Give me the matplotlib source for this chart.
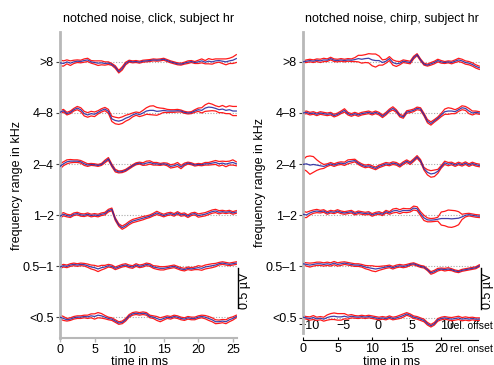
import numpy as np
import matplotlib.pyplot as plt

plt.rcParams['font.family'] = ['Liberation Sans', 'DejaVu Sans']
plt.rcParams['font.size'] = 9

# time axis of the averaged traces (ms), sampled every 0.5 ms
t = np.arange(0, 26, 0.5)

bands = ['<0.5', '0.5–1', '1–2', '2–4', '4–8', '>8']
row_step = 625  # nV between stacked traces
offset_shift = 10.8  # chirp: onset -> offset time (ms)

# click condition: mean (nV) and half width of the red band (nV), per band
click_lt05 = [4, -12, -28, -20, -4, 4, 4, 12, 8, 20, 12, 28, 20, 4, -12, -20, -44, -68, -60, -28,
              20, 44, 52, 44, 52, 44, 12, 4, -12, -28, -12, 4, -4, 12, 4, -12, -20, -4, -12, -12,
              4, 12, 4, -12, -28, -52, -52, -44, -52, -28, -12, 12]
click_lt05_w = [24, 24, 16, 16, 16, 16, 16, 16, 20, 24, 32, 32, 28, 20, 16, 16, 16, 16, 16, 16,
                16, 16, 16, 16, 16, 16, 16, 16, 24, 24, 20, 16, 16, 16, 16, 16, 16, 16, 16, 16,
                16, 16, 20, 24, 24, 24, 20, 20, 24, 24, 20, 16]
click_05_1 = [-8, 8, 0, 16, 24, 16, 24, 20, 8, -8, -16, -32, -16, -8, 8, 0, -24, -8, 8, 16,
              0, -8, 16, 0, 8, 24, 16, -8, -16, -24, -24, -16, -8, 0, -16, -32, -40, -24, -32, -24,
              -16, -24, -8, 0, 8, 16, 32, 40, 32, 24, 32, 40]
click_05_1_w = [20, 16, 16, 16, 16, 16, 16, 16, 20, 24, 28, 32, 28, 20, 16, 16, 16, 16, 16, 16,
                16, 16, 16, 16, 16, 16, 16, 16, 20, 20, 20, 16, 16, 16, 16, 16, 16, 16, 16, 16,
                24, 24, 24, 24, 24, 20, 16, 16, 16, 16, 16, 16]
click_1_2 = [-12, 12, -4, -12, 12, 20, 4, 0, 12, -4, 4, -4, 12, 20, 56, 72, -48, -120, -152, -128,
             -96, -72, -60, -48, -36, -24, -12, 8, 28, 12, -4, 12, 20, 4, 28, 4, 12, -12, 12, 20,
             -4, 4, 12, 28, 44, 52, 36, 44, 36, 44, 28, 40]
click_1_2_w = [24, 20, 16, 16, 16, 16, 16, 16, 16, 16, 16, 16, 16, 16, 16, 16, 16, 16, 20, 20,
               20, 20, 20, 20, 20, 16, 16, 16, 20, 16, 16, 16, 16, 16, 16, 16, 16, 16, 16, 16,
               20, 20, 20, 20, 20, 20, 20, 16, 16, 16, 16, 16]
click_2_4 = [-28, 4, 28, 36, 36, 36, 28, 4, -12, -4, -8, -16, -4, 32, 64, -16, -80, -96, -92, -76,
             -48, -20, 4, 12, 0, 12, 20, 4, 4, -4, 4, -4, -28, -20, -4, -36, -4, 12, 4, -12,
             -4, -8, 4, 4, 12, 20, 4, 12, 0, 12, 20, 4]
click_2_4_w = [32, 24, 24, 20, 16, 16, 16, 20, 16, 12, 12, 12, 12, 16, 16, 16, 16, 12, 12, 12,
               12, 12, 12, 12, 16, 24, 20, 16, 16, 12, 12, 16, 20, 20, 24, 20, 16, 12, 12, 12,
               12, 12, 16, 16, 20, 24, 28, 24, 32, 24, 32, 24]
click_4_8 = [8, 28, -8, 8, 40, 60, 40, -8, -24, -8, -16, 8, 32, 48, 20, -72, -92, -100, -88, -64,
             -48, -24, -8, -20, 0, 24, 32, 32, 20, 24, 32, 24, 24, 24, 28, 24, 8, 0, 4, 24,
             40, 32, 60, 72, 68, 56, 40, 48, 32, 40, 24, 24]
click_4_8_w = [20, 16, 16, 16, 16, 20, 24, 28, 28, 28, 28, 20, 20, 20, 24, 32, 40, 40, 40, 36,
               32, 24, 20, 24, 32, 40, 52, 56, 48, 36, 24, 20, 16, 16, 16, 12, 12, 12, 12, 16,
               20, 32, 40, 48, 40, 32, 36, 44, 40, 48, 56, 56]
click_gt8 = [-12, -20, 0, -16, 0, 8, 4, 16, 24, 0, -8, -16, -12, -20, -16, -32, -64, -120, -80, -20,
             8, 0, 4, -4, 8, 12, 16, 24, 20, 24, 32, 16, 0, -12, -24, -28, -16, -4, 4, -8,
             0, 12, -4, 8, 0, 12, 16, 8, 0, 12, 20, 40]
click_gt8_w = [36, 32, 24, 28, 20, 16, 16, 20, 20, 16, 20, 28, 24, 20, 16, 12, 16, 16, 20, 16,
               12, 12, 12, 12, 12, 12, 12, 12, 12, 12, 12, 12, 12, 12, 12, 12, 12, 16, 12, 12,
               20, 24, 20, 32, 28, 24, 20, 28, 36, 32, 40, 48]

# chirp condition
chirp_lt05 = [4, -4, -12, 0, -16, -8, -20, 0, 12, 16, 8, 8, 16, 4, 16, 8, 4, 12, 4, 12,
              4, -4, -12, -4, -12, 4, -12, -4, 8, 24, 44, 28, 4, -4, -20, -36, -76, -100, -76, -28,
              -12, -4, -12, -20, -12, -4, -20, -12, -20, -12, -20, -20]
chirp_lt05_w = [16, 16, 20, 24, 20, 20, 24, 32, 36, 40, 40, 40, 32, 24, 20, 16, 16, 16, 16, 16,
                16, 16, 16, 16, 16, 16, 16, 16, 20, 20, 16, 16, 16, 16, 16, 16, 16, 16, 16, 16,
                16, 16, 16, 20, 20, 20, 20, 20, 20, 16, 16, 16]
chirp_05_1 = [32, 24, 16, 24, 32, 32, 24, 32, 24, 40, 24, 32, 40, 32, 24, 16, 16, 8, -8, -16,
              -24, -32, -24, -16, -8, 0, -16, 0, 8, 0, 8, 24, 32, 16, 0, -8, -40, -80, -64, -40,
              -32, -40, -32, -40, -56, -64, -48, -40, -32, -24, -16, 8]
chirp_05_1_w = [16, 20, 24, 20, 20, 20, 20, 20, 20, 20, 20, 20, 16, 16, 16, 16, 16, 16, 20, 24,
                32, 32, 24, 20, 16, 16, 16, 16, 16, 16, 16, 12, 12, 12, 12, 12, 12, 16, 16, 16,
                12, 16, 16, 12, 12, 12, 12, 12, 12, 12, 12, 12]
chirp_1_2 = [12, 4, 28, 44, 52, 44, 52, 28, 44, 36, 52, 36, 28, 36, 44, 20, 36, 28, 20, 28,
             4, 20, 28, 12, 44, 28, 52, 60, 44, 60, 56, 60, 88, 80, 20, -32, -56, -60, -56, -48,
             -40, -40, -40, -44, -40, -36, -20, 0, 8, 0, -8, -12]
chirp_1_2_w = [40, 32, 24, 20, 20, 16, 16, 16, 16, 16, 16, 16, 16, 16, 16, 16, 16, 16, 16, 16,
               16, 16, 16, 16, 16, 16, 24, 24, 24, 24, 24, 20, 24, 24, 24, 32, 24, 20, 20, 24,
               80, 88, 104, 104, 96, 80, 32, 20, 16, 16, 16, 16]
chirp_2_4 = [-4, 4, -12, -4, -12, -20, -28, -12, 4, -12, 4, 12, 4, 28, 36, 44, 12, -12, -28, -20,
             -36, -52, -28, -12, 4, -4, 12, 4, -20, 12, 36, 12, 48, 88, 40, -56, -100, -120, -112, -88,
             -32, 16, 0, 8, -12, 8, -8, 12, -12, 8, -8, -16]
chirp_2_4_w = [56, 88, 112, 96, 64, 40, 24, 16, 16, 16, 16, 16, 20, 24, 20, 16, 16, 16, 16, 16,
               16, 16, 16, 16, 16, 16, 16, 16, 16, 16, 16, 16, 16, 16, 16, 16, 32, 40, 40, 24,
               16, 20, 20, 16, 16, 16, 16, 16, 16, 16, 16, 16]
chirp_4_8 = [0, 8, -8, 0, -16, 0, -8, -16, -8, -32, -16, 8, 32, -8, -24, -8, -24, -8, 0, 8,
             -8, 8, -8, -40, -8, 32, 56, 24, -32, -48, 12, 20, 32, 56, 48, -20, -100, -128, -96, -64,
             -24, 16, 24, 24, 16, 40, 64, 56, 24, 0, 8, 0]
chirp_4_8_w = [16, 16, 16, 16, 16, 16, 16, 16, 16, 16, 16, 16, 20, 16, 16, 16, 16, 16, 16, 16,
               16, 16, 16, 16, 16, 16, 20, 16, 16, 16, 16, 16, 16, 16, 16, 16, 20, 20, 16, 16,
               20, 32, 40, 32, 24, 20, 24, 24, 32, 24, 16, 16]
chirp_gt8 = [0, 8, 16, 8, 20, 12, 24, 20, 40, 20, 16, 24, 16, 24, 20, 28, 40, 32, 40, 44,
             24, 16, 16, -8, 8, 40, -8, -24, -16, 8, 0, -8, 52, 88, 24, -28, -40, -24, -8, 16,
             0, -8, 0, -8, 8, 24, 12, -8, -16, -32, -56, -72]
chirp_gt8_w = [12, 16, 16, 16, 16, 20, 20, 16, 16, 16, 16, 16, 16, 16, 16, 24, 40, 48, 48, 56,
               72, 80, 56, 32, 24, 24, 32, 32, 20, 16, 16, 16, 16, 12, 12, 12, 12, 16, 16, 16,
               16, 12, 12, 16, 16, 20, 20, 20, 20, 20, 20, 20]

click_means = [click_lt05, click_05_1, click_1_2, click_2_4, click_4_8, click_gt8]
click_widths = [click_lt05_w, click_05_1_w, click_1_2_w, click_2_4_w, click_4_8_w, click_gt8_w]
chirp_means = [chirp_lt05, chirp_05_1, chirp_1_2, chirp_2_4, chirp_4_8, chirp_gt8]
chirp_widths = [chirp_lt05_w, chirp_05_1_w, chirp_1_2_w, chirp_2_4_w, chirp_4_8_w, chirp_gt8_w]

W, H = 494, 365
fig = plt.figure(figsize=(W / 100, H / 100), dpi=100)
ax1 = fig.add_axes([60 / W, 1 - 338 / H, 177 / W, 306 / H])
ax2 = fig.add_axes([303 / W, 1 - 333 / H, 177 / W, 301 / H])

red = '#ff1a1a'
blue = '#2a2aa0'
grey = '#b8b8b8'


def draw_traces(ax, means, widths):
    for i, (m, w) in enumerate(zip(means, widths)):
        base = i * row_step
        m = np.asarray(m)
        w = np.asarray(w)
        ax.axhline(base, color='#a8a8a8', lw=0.8, ls=(0, (1, 1.5)), zorder=1)
        ax.plot(t, base + m + w, color=red, lw=0.9, zorder=2)
        ax.plot(t, base + m - w, color=red, lw=0.9, zorder=2)
        ax.plot(t, base + m, color=blue, lw=0.9, alpha=0.9, zorder=3)
    ax.set_yticks(np.arange(len(bands)) * row_step)
    ax.set_yticklabels(bands)
    ax.set_xlim(0, 25.6)
    ax.spines['top'].set_visible(False)
    ax.spines['right'].set_visible(False)
    ax.spines['left'].set_color(grey)
    ax.spines['left'].set_linewidth(2)
    ax.tick_params(axis='y', length=3, width=0.8, color='#444444', pad=1.5)
    ax.set_ylabel('frequency range in kHz')
    ax.yaxis.set_label_coords(-0.21, 0.5)
    # 0.5 µV scale bar
    ax.plot([25.75, 25.75], [110, 610], color='black', lw=1, clip_on=False)
    ax.text(26.75, 330, '0.5 µV', rotation=90, ha='center', va='center', clip_on=False)


draw_traces(ax1, click_means, click_widths)
ax1.set_ylim(-251, 3490)
ax1.spines['bottom'].set_color(grey)
ax1.spines['bottom'].set_linewidth(1.5)
ax1.set_xticks([0, 5, 10, 15, 20, 25])
ax1.tick_params(axis='x', length=3, color=grey, width=1, pad=1.5)
ax1.set_xlabel('time in ms')
ax1.xaxis.set_label_coords(0.45, -0.058)
ax1.set_title('notched noise, click, subject hr', fontsize=9, pad=7)

draw_traces(ax2, chirp_means, chirp_widths)
ax2.set_ylim(-189, 3490)
ax2.spines['bottom'].set_position(('outward', 5))
ax2.spines['bottom'].set_linewidth(0.8)
ax2.spines['bottom'].set_bounds(0, 25.3)
ax2.set_xticks([0, 5, 10, 15, 20])
ax2.tick_params(axis='x', direction='in', length=2.5, width=0.8, pad=2.5)
ax2.set_xlabel('time in ms')
ax2.xaxis.set_label_coords(0.5, -0.075)
ax2.set_title('notched noise, chirp, subject hr', fontsize=9, pad=7)
ax2.text(0.83, -0.053, 'rel. onset', transform=ax2.transAxes, ha='left', va='center', fontsize=7.5)

sec = ax2.secondary_xaxis(0, functions=(lambda x: x - offset_shift, lambda x: x + offset_shift))
sec.set_alignment('top')
sec.set_xticks([-10, -5, 0, 5, 10])
sec.tick_params(axis='x', length=0, pad=1)
for s in sec.spines.values():
    s.set_visible(False)
ax2.text(0.833, 0.022, 'rel. offset', transform=ax2.transAxes, ha='left', va='center', fontsize=7.5)

fig.savefig('out.png', dpi=100)
